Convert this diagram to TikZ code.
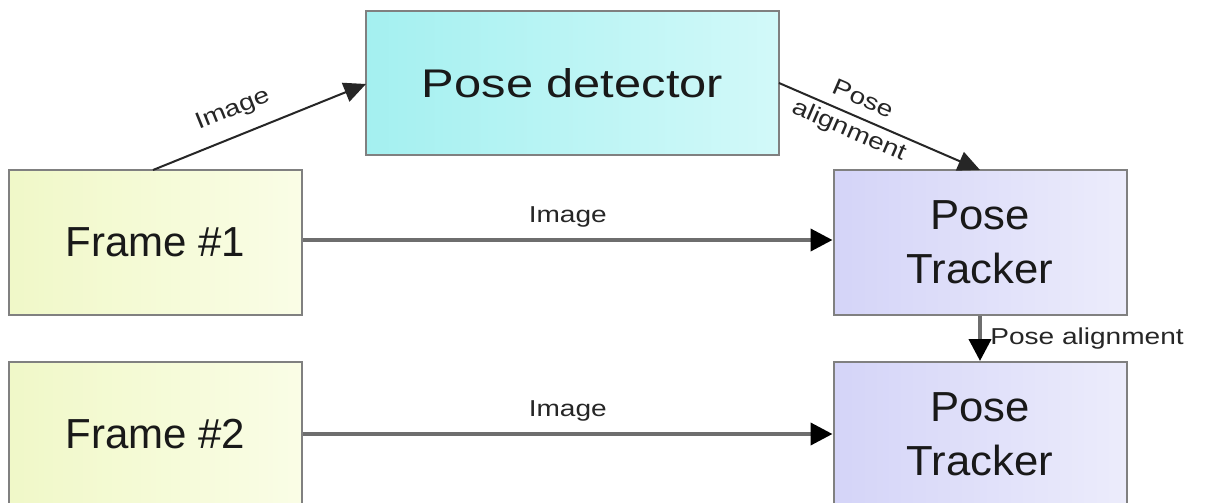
\documentclass[tikz,border=0pt]{standalone}
\usepackage{fontspec}
\setmainfont{Liberation Sans}
\newfontfamily\lblfont[FakeStretch=1.22]{Liberation Sans}
\newfontfamily\bigfont[FakeStretch=1.04]{Liberation Sans}
\usetikzlibrary{arrows.meta}
\definecolor{boxline}{HTML}{808080}
\definecolor{conn}{HTML}{6E6E6E}
\tikzset{
  box/.style={draw=boxline, line width=2pt, minimum width=293pt, minimum height=145pt, inner sep=0pt, align=center, font=\bigfont\fontsize{42}{54}\selectfont, text=black!90},
  framebox/.style={box, left color={rgb,255:red,240;green,248;blue,200}, right color={rgb,255:red,250;green,253;blue,230}, font=\fontsize{42}{54}\selectfont},
  detbox/.style={box, minimum width=413pt, minimum height=144pt, left color={rgb,255:red,164;green,240;blue,240}, right color={rgb,255:red,210;green,249;blue,249}, font=\lblfont\fontsize{40}{48}\selectfont},
  trackbox/.style={box, left color={rgb,255:red,212;green,212;blue,248}, right color={rgb,255:red,236;green,236;blue,251}},
  thinarrow/.style={draw=black!85, line width=2pt, -{Triangle[length=22pt,width=20pt]}},
  thickarrow/.style={draw=conn, line width=4pt, -{Triangle[length=22pt,width=22pt,color=black]}},
  lbl/.style={font=\lblfont\fontsize{23}{34}\selectfont, text=black!85},
}
\begin{document}
\begin{tikzpicture}[x=1pt, y=-1pt]
\useasboundingbox (0,0) rectangle (1207,503);
\clip (0,0) rectangle (1207,503);
\fill[white] (0,0) rectangle (1207,503);
\node[detbox] (det) at (572.5,83) {Pose detector};
\node[framebox] (f1) at (155.5,242.5) {Frame \#1};
\node[framebox] (f2) at (155.5,434.5) {Frame \#2};
\node[trackbox] (t1) at (980,242.5) {Pose\\Tracker};
\node[trackbox] (t2) at (980,434.5) {Pose\\Tracker};
\coordinate (f1top) at (153,170);
\coordinate (detL) at (366,84);
\coordinate (detR) at (779,83);
\coordinate (t1top) at (980,170);
\draw[thinarrow] (f1top) -- node[lbl, sloped, above=11pt, pos=0.42] {Image} (detL);
\draw[thinarrow] (detR) -- node[lbl, sloped, pos=0.38, align=center] {Pose\\alignment} (t1top);
\draw[thickarrow] (f1.east |- 0,240) -- node[lbl, above=7pt, pos=0.5] {Image} (t1.west |- 0,240);
\draw[thickarrow] (f2.east |- 0,434) -- node[lbl, above=7pt, pos=0.5] {Image} (t2.west |- 0,434);
\draw[thickarrow] (t1.south) -- node[lbl, right=5pt, pos=0.5] {Pose alignment} (t2.north);
\end{tikzpicture}
\end{document}
